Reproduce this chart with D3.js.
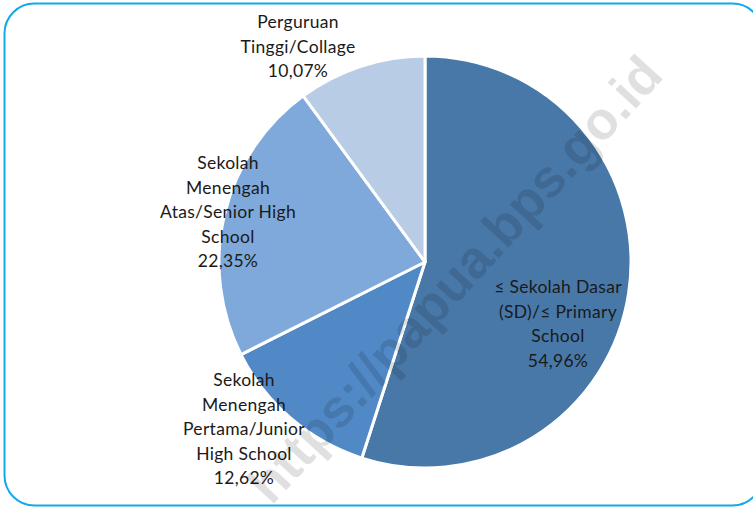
<!DOCTYPE html>
<html><head><meta charset="utf-8">
<script src="https://cdn.jsdelivr.net/npm/d3@7"></script>
<style>
html,body{margin:0;padding:0;background:#fff;}
svg{display:block;}
</style></head>
<body>
<svg id="chart" width="753" height="507"></svg>
<script>
const categories = ["≤ Sekolah Dasar (SD)/≤ Primary School", "Sekolah Menengah Pertama/Junior High School", "Sekolah Menengah Atas/Senior High School", "Perguruan Tinggi/Collage"];
const values = [54.96, 12.62, 22.35, 10.07];
const valueLabels = ["54,96%", "12,62%", "22,35%", "10,07%"];
const labelLines = [
  ["≤ Sekolah Dasar", "(SD)/≤ Primary", "School"],
  ["Sekolah", "Menengah", "Pertama/Junior", "High School"],
  ["Sekolah", "Menengah", "Atas/Senior High", "School"],
  ["Perguruan", "Tinggi/Collage"]
];
const colors = ["#4878A8", "#5089C6", "#7EA9DA", "#B8CCE6"];
// label block placement (first baseline) relative to layout
const labelAnchors = [[558, 293], [244, 386], [228, 169], [298, 28]];

const svg = d3.select("#chart");
const cx = 425, cy = 262, R = 206;

// frame
svg.append("rect").attr("x", 4.5).attr("y", 3.5).attr("width", 758).attr("height", 502)
  .attr("rx", 30).attr("ry", 30).attr("fill", "#fff").attr("stroke", "#12A9E6").attr("stroke-width", 2);

const pie = d3.pie().sort(null).value(d => d)(values);
const arc = d3.arc().innerRadius(0).outerRadius(R);
const g = svg.append("g").attr("transform", `translate(${cx},${cy})`);
g.selectAll("path").data(pie).join("path")
  .attr("d", arc).attr("fill", (d, i) => colors[i])
  .attr("stroke", "#fff").attr("stroke-width", 3).attr("stroke-linejoin", "round");

// labels
const lh = 24.6;
labelLines.forEach((lines, i) => {
  const t = svg.append("text")
    .attr("font-family", "Lato, 'Liberation Sans', sans-serif")
    .attr("font-size", 17.5).attr("letter-spacing", 0.3).attr("fill", "#1a1a1a").attr("text-anchor", "middle");
  lines.concat([valueLabels[i]]).forEach((s, k) => {
    t.append("tspan").attr("x", labelAnchors[i][0]).attr("y", labelAnchors[i][1] + k * lh).text(s);
  });
});

// watermark
svg.append("text").attr("transform", "translate(458,282) rotate(-47.5)")
  .attr("text-anchor", "middle").attr("dominant-baseline", "middle")
  .attr("font-family", "'Liberation Sans', Arial, sans-serif").attr("font-weight", "bold")
  .attr("font-size", 53).attr("fill", "rgba(0,0,0,0.12)")
  .text("https://papua.bps.go.id");
</script>
</body></html>
